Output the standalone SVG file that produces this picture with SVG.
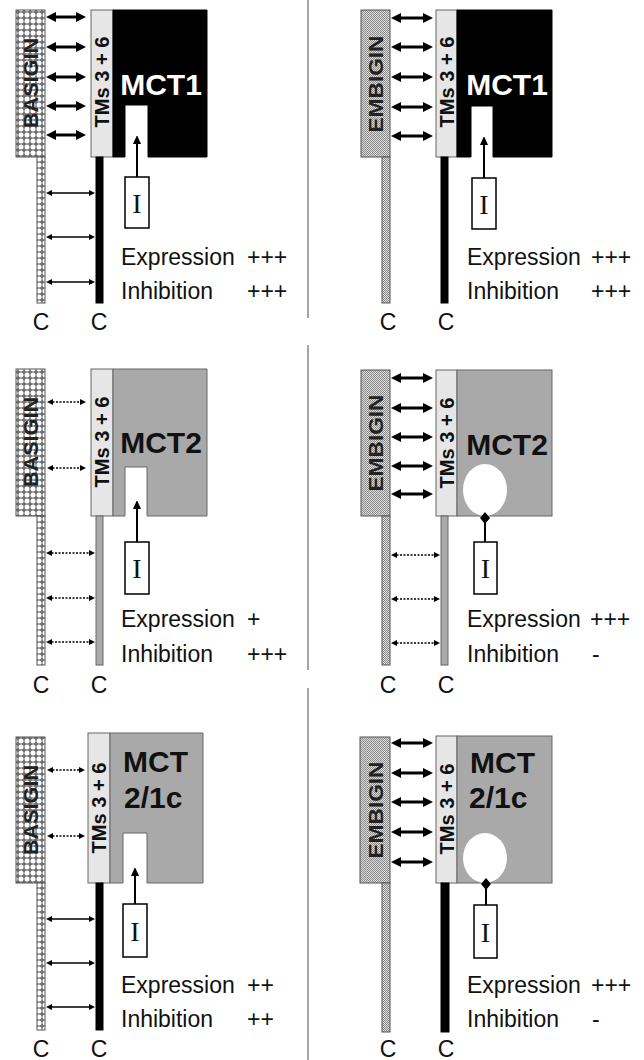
<svg xmlns="http://www.w3.org/2000/svg" width="644" height="1060" viewBox="0 0 644 1060">
<style>
text{font-family:"Liberation Sans",Arial,sans-serif;fill:#111}
.lbl{font-size:23px}
.c{font-size:23px;text-anchor:middle}
.rot{font-size:20px;font-weight:bold;text-anchor:middle}
.gen{font-size:21px;font-weight:bold;text-anchor:middle;fill:#222}
.mct{font-size:30px;font-weight:bold}
.mid{text-anchor:middle}
.ii{font-family:"Liberation Serif","Times New Roman",serif;font-size:28px;text-anchor:middle}
.bas{fill:url(#pb);stroke:#555;stroke-width:1}
.emb{fill:url(#pe);stroke:#555;stroke-width:1}
.tms{fill:#e6e6e6;stroke:#666;stroke-width:1}
.blk{fill:#000;stroke:#000;stroke-width:1}
.gry{fill:#a9a9a9;stroke:#666;stroke-width:1}
.ib{fill:#fff;stroke:#000;stroke-width:1.5}
.thick{stroke:#000;stroke-width:3;fill:none;marker-start:url(#hb);marker-end:url(#hb)}
.thin{stroke:#000;stroke-width:1.3;fill:none;marker-start:url(#hs);marker-end:url(#hs)}
.dot{stroke:#000;stroke-width:1.5;stroke-dasharray:2,1.5;fill:none;marker-start:url(#hs);marker-end:url(#hs)}
.up{stroke:#000;stroke-width:2;fill:none;marker-end:url(#hu)}
.inh{stroke:#000;stroke-width:2;fill:none}
.div{stroke:#888;stroke-width:1.5}
</style>
<defs>
<pattern id="pb" width="6" height="6" patternUnits="userSpaceOnUse">
<rect width="6" height="6" fill="#6f6f6f"/>
<circle cx="3" cy="3" r="2.5" fill="#fff"/>
</pattern>
<pattern id="pe" width="2" height="2" patternUnits="userSpaceOnUse">
<rect width="2" height="2" fill="#dcdcdc"/>
<rect width="1" height="1" fill="#8a8a8a"/>
<rect x="1" y="1" width="1" height="1" fill="#8a8a8a"/>
</pattern>
<marker id="hb" markerUnits="userSpaceOnUse" viewBox="0 0 10 10" markerWidth="10" markerHeight="10" refX="6" refY="5" orient="auto-start-reverse">
<path d="M0,0 L10,5 L0,10 Z" fill="#000"/>
</marker>
<marker id="hs" markerUnits="userSpaceOnUse" viewBox="0 0 6 6" markerWidth="6" markerHeight="6" refX="4" refY="3" orient="auto-start-reverse">
<path d="M0,0 L6,3 L0,6 Z" fill="#000"/>
</marker>
<marker id="hu" markerUnits="userSpaceOnUse" viewBox="0 0 8 9" markerWidth="8" markerHeight="9" refX="5" refY="4" orient="auto">
<path d="M0,0 L9,4 L0,8 Z" fill="#000"/>
</marker>
</defs>
<rect width="644" height="1060" fill="#fff"/>

<g id="dividers">
<line class="div" x1="308" y1="0" x2="308" y2="318"/>
<line class="div" x1="308" y1="345" x2="308" y2="670"/>
<line class="div" x1="308" y1="688" x2="308" y2="1060"/>
</g>

<!-- Top-left panel -->
<g id="tl-basigin">
<rect class="bas" x="16" y="10" width="29" height="147"/>
<rect class="bas" x="37" y="157" width="8" height="146"/>
<text class="gen" transform="translate(38,83) rotate(-90)" textLength="90" lengthAdjust="spacingAndGlyphs">BASIGIN</text>
</g>
<g id="tl-tms">
<rect class="tms" x="91" y="10" width="22" height="147"/>
<text class="rot" transform="translate(109,82) rotate(-90)" textLength="91" lengthAdjust="spacingAndGlyphs">TMs 3 + 6</text>
</g>
<g id="tl-mct1">
<path class="blk" d="M113,10 H207 V157 H148 V105 H125 V157 H113 Z"/>
<rect class="blk" x="96" y="157" width="7" height="146"/>
<text class="mct mid" x="161" y="95" style="fill:#fff">MCT1</text>
</g>
<g id="tl-inhibitor">
<rect class="ib" x="125" y="177" width="24" height="51"/>
<text class="ii" x="137" y="213">I</text>
</g>
<g id="tl-labels">
<text class="lbl" x="121" y="265">Expression</text><text class="lbl" x="247" y="265">+++</text>
<text class="lbl" x="121" y="299">Inhibition</text><text class="lbl" x="247" y="299">+++</text>
<text class="c" x="41" y="330">C</text><text class="c" x="99" y="330">C</text>
</g>

<!-- Top-right panel -->
<g id="tr-embigin">
<rect class="emb" x="361" y="10" width="29" height="147"/>
<rect class="emb" x="382" y="157" width="8" height="146"/>
<text class="gen" transform="translate(383,84) rotate(-90)" textLength="97" lengthAdjust="spacingAndGlyphs">EMBIGIN</text>
</g>
<g id="tr-tms">
<rect class="tms" x="436" y="10" width="21" height="147"/>
<text class="rot" transform="translate(454,82) rotate(-90)" textLength="91" lengthAdjust="spacingAndGlyphs">TMs 3 + 6</text>
</g>
<g id="tr-mct1">
<path class="blk" d="M457,10 H552 V157 H493 V106 H471 V157 H457 Z"/>
<rect class="blk" x="441" y="157" width="7" height="146"/>
<text class="mct mid" x="507" y="95" style="fill:#fff">MCT1</text>
</g>
<g id="tr-inhibitor">
<rect class="ib" x="472" y="178" width="24" height="51"/>
<text class="ii" x="484" y="214">I</text>
</g>
<g id="tr-labels">
<text class="lbl" x="467" y="265">Expression</text><text class="lbl" x="591" y="265">+++</text>
<text class="lbl" x="467" y="299">Inhibition</text><text class="lbl" x="591" y="299">+++</text>
<text class="c" x="388" y="330">C</text><text class="c" x="446" y="330">C</text>
</g>

<!-- Middle-left panel -->
<g id="ml-basigin">
<rect class="bas" x="16" y="369" width="29" height="147"/>
<rect class="bas" x="37" y="516" width="8" height="149"/>
<text class="gen" transform="translate(38,442) rotate(-90)" textLength="90" lengthAdjust="spacingAndGlyphs">BASIGIN</text>
</g>
<g id="ml-tms">
<rect class="tms" x="91" y="369" width="22" height="147"/>
<text class="rot" transform="translate(109,442) rotate(-90)" textLength="91" lengthAdjust="spacingAndGlyphs">TMs 3 + 6</text>
</g>
<g id="ml-mct2">
<path class="gry" d="M113,369 H207 V516 H147 V467 H125 V516 H113 Z"/>
<rect class="gry" x="96" y="516" width="7" height="149"/>
<text class="mct mid" x="161" y="453">MCT2</text>
</g>
<g id="ml-inhibitor">
<rect class="ib" x="125" y="542" width="24" height="52"/>
<text class="ii" x="137" y="578">I</text>
</g>
<g id="ml-labels">
<text class="lbl" x="121" y="627">Expression</text><text class="lbl" x="247" y="627">+</text>
<text class="lbl" x="121" y="662">Inhibition</text><text class="lbl" x="247" y="662">+++</text>
<text class="c" x="41" y="693">C</text><text class="c" x="99" y="693">C</text>
</g>

<!-- Middle-right panel -->
<g id="mr-embigin">
<rect class="emb" x="361" y="370" width="29" height="146"/>
<rect class="emb" x="382" y="516" width="8" height="149"/>
<text class="gen" transform="translate(383,443) rotate(-90)" textLength="97" lengthAdjust="spacingAndGlyphs">EMBIGIN</text>
</g>
<g id="mr-tms">
<rect class="tms" x="436" y="370" width="21" height="146"/>
<text class="rot" transform="translate(454,443) rotate(-90)" textLength="91" lengthAdjust="spacingAndGlyphs">TMs 3 + 6</text>
</g>
<g id="mr-mct2">
<rect class="gry" x="457" y="370" width="95" height="146"/>
<ellipse cx="485" cy="490" rx="22" ry="26" fill="#fff"/>
<rect class="gry" x="441" y="516" width="7" height="149"/>
<text class="mct mid" x="507" y="455">MCT2</text>
</g>
<g id="mr-inhibitor">
<rect class="ib" x="474" y="542" width="23" height="52"/>
<text class="ii" x="485.5" y="578">I</text>
</g>
<g id="mr-labels">
<text class="lbl" x="467" y="627">Expression</text><text class="lbl" x="590" y="627">+++</text>
<text class="lbl" x="467" y="662">Inhibition</text><text class="lbl" x="592" y="662">-</text>
<text class="c" x="388" y="693">C</text><text class="c" x="446" y="693">C</text>
</g>

<!-- Bottom-left panel -->
<g id="bl-basigin">
<rect class="bas" x="16" y="737" width="29" height="146"/>
<rect class="bas" x="37" y="883" width="8" height="147"/>
<text class="gen" transform="translate(38,810) rotate(-90)" textLength="90" lengthAdjust="spacingAndGlyphs">BASIGIN</text>
</g>
<g id="bl-tms">
<rect class="tms" x="88" y="733" width="22" height="150"/>
<text class="rot" transform="translate(106,808) rotate(-90)" textLength="91" lengthAdjust="spacingAndGlyphs">TMs 3 + 6</text>
</g>
<g id="bl-mct">
<path class="gry" d="M110,733 H203 V883 H147 V833 H123 V883 H110 Z"/>
<rect class="blk" x="96" y="883" width="7" height="147"/>
<text class="mct" x="123" y="772">MCT</text>
<text class="mct" x="124" y="808">2/1c</text>
</g>
<g id="bl-inhibitor">
<rect class="ib" x="123" y="904" width="24" height="53"/>
<text class="ii" x="135" y="941">I</text>
</g>
<g id="bl-labels">
<text class="lbl" x="121" y="993">Expression</text><text class="lbl" x="247" y="993">++</text>
<text class="lbl" x="121" y="1027">Inhibition</text><text class="lbl" x="247" y="1027">++</text>
<text class="c" x="41" y="1057">C</text><text class="c" x="99" y="1057">C</text>
</g>

<!-- Bottom-right panel -->
<g id="br-embigin">
<rect class="emb" x="360" y="737" width="30" height="146"/>
<rect class="emb" x="382" y="883" width="8" height="149"/>
<text class="gen" transform="translate(383,810) rotate(-90)" textLength="97" lengthAdjust="spacingAndGlyphs">EMBIGIN</text>
</g>
<g id="br-tms">
<rect class="tms" x="436" y="736" width="21" height="147"/>
<text class="rot" transform="translate(454,809) rotate(-90)" textLength="91" lengthAdjust="spacingAndGlyphs">TMs 3 + 6</text>
</g>
<g id="br-mct">
<rect class="gry" x="457" y="736" width="95" height="147"/>
<ellipse cx="485" cy="858" rx="22" ry="25" fill="#fff"/>
<rect class="blk" x="441" y="883" width="8" height="149"/>
<text class="mct" x="470" y="773">MCT</text>
<text class="mct" x="469" y="808">2/1c</text>
</g>
<g id="br-inhibitor">
<rect class="ib" x="474" y="905" width="23" height="53"/>
<text class="ii" x="485.5" y="942">I</text>
</g>
<g id="br-labels">
<text class="lbl" x="467" y="993">Expression</text><text class="lbl" x="591" y="993">+++</text>
<text class="lbl" x="467" y="1027">Inhibition</text><text class="lbl" x="592" y="1027">-</text>
<text class="c" x="388" y="1057">C</text><text class="c" x="446" y="1057">C</text>
</g>

<g id="connectors">
<line class="thick" x1="50" y1="17" x2="82" y2="17"/>
<line class="thick" x1="50" y1="47" x2="82" y2="47"/>
<line class="thick" x1="50" y1="77" x2="82" y2="77"/>
<line class="thick" x1="50" y1="106" x2="82" y2="106"/>
<line class="thick" x1="50" y1="135" x2="82" y2="135"/>
<line class="thin" x1="48" y1="193" x2="93" y2="193"/>
<line class="thin" x1="48" y1="237" x2="93" y2="237"/>
<line class="thin" x1="48" y1="282" x2="93" y2="282"/>
<line class="up" x1="137" y1="177" x2="137" y2="139"/>
<line class="thick" x1="395" y1="18" x2="429" y2="18"/>
<line class="thick" x1="395" y1="47" x2="429" y2="47"/>
<line class="thick" x1="395" y1="77" x2="429" y2="77"/>
<line class="thick" x1="395" y1="107" x2="429" y2="107"/>
<line class="thick" x1="395" y1="136" x2="429" y2="136"/>
<line class="up" x1="484" y1="178" x2="484" y2="140"/>
<line class="dot" x1="49" y1="402" x2="84" y2="402"/>
<line class="dot" x1="49" y1="468" x2="84" y2="468"/>
<line class="dot" x1="48" y1="553" x2="93" y2="553"/>
<line class="dot" x1="48" y1="598" x2="93" y2="598"/>
<line class="dot" x1="48" y1="642" x2="93" y2="642"/>
<line class="up" x1="137" y1="542" x2="137" y2="504"/>
<line class="thick" x1="395" y1="378" x2="429" y2="378"/>
<line class="thick" x1="395" y1="408" x2="429" y2="408"/>
<line class="thick" x1="395" y1="437" x2="429" y2="437"/>
<line class="thick" x1="395" y1="466" x2="429" y2="466"/>
<line class="thick" x1="395" y1="494" x2="429" y2="494"/>
<line class="dot" x1="393" y1="555" x2="438" y2="555"/>
<line class="dot" x1="393" y1="599" x2="438" y2="599"/>
<line class="dot" x1="393" y1="643" x2="438" y2="643"/>
<line class="inh" x1="485" y1="523" x2="485" y2="542"/>
<path d="M485,512 L490,518 L485,524 L480,518 Z" fill="#000"/>
<line class="dot" x1="49" y1="770" x2="83" y2="770"/>
<line class="dot" x1="49" y1="836" x2="83" y2="836"/>
<line class="thin" x1="48" y1="919" x2="93" y2="919"/>
<line class="thin" x1="48" y1="963" x2="93" y2="963"/>
<line class="thin" x1="48" y1="1007" x2="93" y2="1007"/>
<line class="up" x1="135" y1="904" x2="135" y2="871"/>
<line class="thick" x1="395" y1="743" x2="429" y2="743"/>
<line class="thick" x1="395" y1="773" x2="429" y2="773"/>
<line class="thick" x1="395" y1="802" x2="429" y2="802"/>
<line class="thick" x1="395" y1="832" x2="429" y2="832"/>
<line class="thick" x1="395" y1="862" x2="429" y2="862"/>
<line class="inh" x1="486" y1="889" x2="486" y2="905"/>
<path d="M486,878 L491,884 L486,890 L481,884 Z" fill="#000"/>
</g>
</svg>
